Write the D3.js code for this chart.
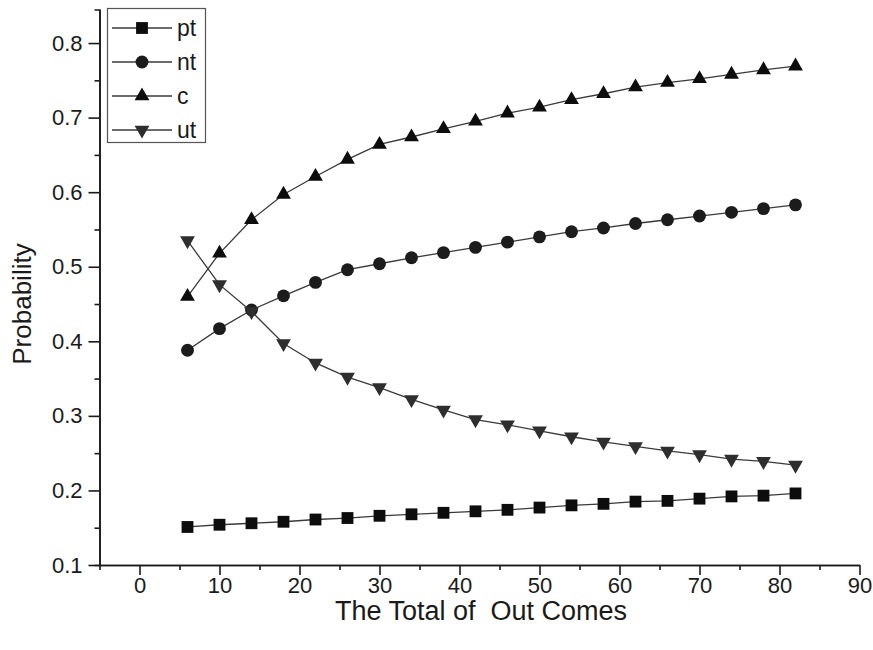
<!DOCTYPE html>
<html>
<head>
<meta charset="utf-8">
<script src="https://cdn.jsdelivr.net/npm/d3@7/dist/d3.min.js"></script>
<style>
  html, body { margin: 0; padding: 0; background: #fff; }
  svg { display: block; }
  text { font-family: "Liberation Sans", Arial, sans-serif; fill: #1a1a1a; white-space: pre; }
</style>
</head>
<body>
<svg id="chart" width="873" height="650"></svg>
<script>
// Number of outcomes sampled
const outcomes = [6, 10, 14, 18, 22, 26, 30, 34, 38, 42, 46, 50, 54, 58, 62, 66, 70, 74, 78, 82];

// Probability series
const pt = [0.151, 0.154, 0.156, 0.158, 0.161, 0.163, 0.166, 0.168, 0.170, 0.172,
            0.174, 0.177, 0.180, 0.182, 0.185, 0.186, 0.189, 0.192, 0.193, 0.196];
const nt = [0.388, 0.417, 0.442, 0.461, 0.479, 0.496, 0.504, 0.512, 0.519, 0.526,
            0.533, 0.540, 0.547, 0.552, 0.558, 0.563, 0.568, 0.573, 0.578, 0.583];
const c  = [0.460, 0.518, 0.563, 0.597, 0.621, 0.644, 0.664, 0.674, 0.685, 0.695,
            0.706, 0.714, 0.724, 0.732, 0.741, 0.747, 0.752, 0.758, 0.764, 0.769];
const ut = [0.535, 0.476, 0.440, 0.397, 0.371, 0.352, 0.338, 0.322, 0.308, 0.295,
            0.288, 0.280, 0.272, 0.265, 0.259, 0.253, 0.248, 0.242, 0.239, 0.234];

const seriesNames = ["pt", "nt", "c", "ut"];

// Axis ticks
const xMajorTicks = [0, 10, 20, 30, 40, 50, 60, 70, 80, 90];
const xMinorTicks = [-5, 5, 15, 25, 35, 45, 55, 65, 75, 85];
const yMajorTicks = [0.1, 0.2, 0.3, 0.4, 0.5, 0.6, 0.7, 0.8];
const yMinorTicks = [0.15, 0.25, 0.35, 0.45, 0.55, 0.65, 0.75];

const xTitle = "The Total of  Out Comes";
const yTitle = "Probability";

const svg = d3.select("#chart");
svg.append("rect").attr("width", 873).attr("height", 650).attr("fill", "#fff");

const x = d3.scaleLinear().domain([-5, 90]).range([99.5, 859.5]);
const y = d3.scaleLinear().domain([0.1, 0.845]).range([565, 9.5]);

const axisColor = "#1a1a1a";

// X axis: major ticks with labels, minor ticks without
const gx = svg.append("g").attr("transform", `translate(0,${y(0.1)})`);
gx.call(d3.axisBottom(x).tickValues(xMajorTicks).tickSize(10).tickSizeOuter(0)
          .tickPadding(2).tickFormat(d3.format("d")));
const gxm = svg.append("g").attr("transform", `translate(0,${y(0.1)})`);
gxm.call(d3.axisBottom(x).tickValues(xMinorTicks).tickSize(5).tickSizeOuter(0).tickFormat(""));

// Y axis
const gy = svg.append("g").attr("transform", `translate(${x(-5)},0)`);
gy.call(d3.axisLeft(y).tickValues(yMajorTicks).tickSize(11).tickSizeOuter(5)
          .tickPadding(6).tickFormat(d3.format(".1f")));
const gym = svg.append("g").attr("transform", `translate(${x(-5)},0)`);
gym.call(d3.axisLeft(y).tickValues(yMinorTicks).tickSize(5).tickSizeOuter(0).tickFormat(""));

svg.selectAll(".domain").attr("stroke", axisColor).attr("stroke-width", 1.6);
svg.selectAll(".tick line").attr("stroke", axisColor).attr("stroke-width", 1.6);
svg.selectAll(".tick text")
  .attr("font-family", '"Liberation Sans", Arial, sans-serif')
  .attr("font-size", 22)
  .attr("fill", "#1a1a1a");

// Axis titles
svg.append("text")
  .attr("x", 481)
  .attr("y", 620)
  .attr("text-anchor", "middle")
  .attr("font-size", 27)
  .attr("xml:space", "preserve")
  .text(xTitle);

svg.append("text")
  .attr("transform", `translate(31,${y(0.45)}) rotate(-90)`)
  .attr("text-anchor", "middle")
  .attr("font-size", 26)
  .text(yTitle);

// Series
const seriesData = { pt, nt, c, ut };
const symbols = {
  pt: { type: d3.symbolSquare, size: 140, rotate: 0, fill: "#0d0d0d" },
  nt: { type: d3.symbolCircle, size: 130, rotate: 0, fill: "#1c1c1c" },
  c:  { type: d3.symbolTriangle, size: 95, rotate: 0, fill: "#0d0d0d" },
  ut: { type: d3.symbolTriangle, size: 95, rotate: 180, fill: "#2e2e2e" }
};

const line = d3.line().x(d => x(d[0])).y(d => y(d[1]));

seriesNames.forEach(name => {
  const pts = outcomes.map((o, i) => [o, seriesData[name][i]]);
  const g = svg.append("g");
  g.append("path")
    .attr("d", line(pts))
    .attr("fill", "none")
    .attr("stroke", "#3a3a3a")
    .attr("stroke-width", 1.3);
  const s = symbols[name];
  g.selectAll("path.marker")
    .data(pts)
    .join("path")
    .attr("class", "marker")
    .attr("d", d3.symbol().type(s.type).size(s.size))
    .attr("transform", d => `translate(${x(d[0])},${y(d[1])}) rotate(${s.rotate})`)
    .attr("fill", s.fill);
});

// Legend
const legend = svg.append("g");
legend.append("rect")
  .attr("x", 107.5).attr("y", 8.5)
  .attr("width", 98).attr("height", 134)
  .attr("fill", "#fff")
  .attr("stroke", "#555")
  .attr("stroke-width", 1.2);

const legendRowY = d3.scalePoint().domain(seriesNames).range([28, 130]);
seriesNames.forEach(name => {
  const ly = legendRowY(name);
  const s = symbols[name];
  legend.append("line")
    .attr("x1", 112).attr("x2", 172)
    .attr("y1", ly).attr("y2", ly)
    .attr("stroke", "#3a3a3a").attr("stroke-width", 1.3);
  legend.append("path")
    .attr("d", d3.symbol().type(s.type).size(s.size)())
    .attr("transform", `translate(142,${ly}) rotate(${s.rotate})`)
    .attr("fill", s.fill);
  legend.append("text")
    .attr("x", 177)
    .attr("y", ly + 8)
    .attr("font-size", 23)
    .text(name);
});
</script>
</body>
</html>
